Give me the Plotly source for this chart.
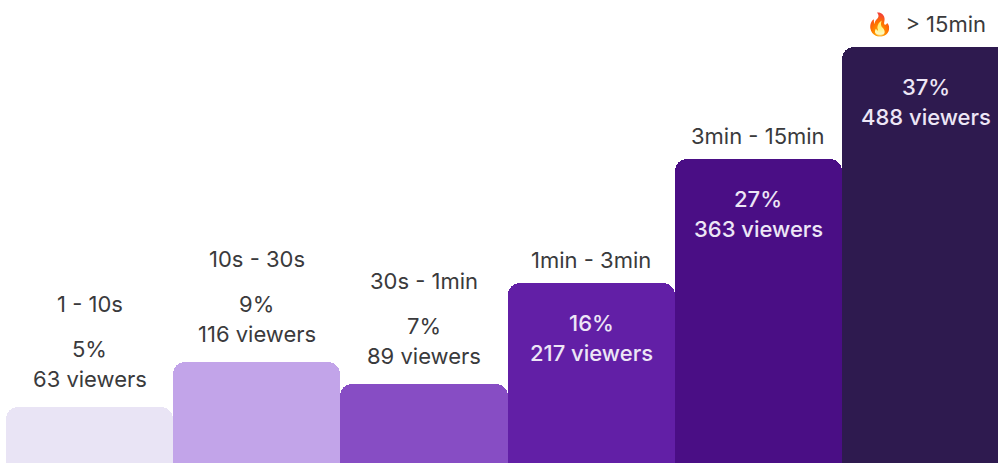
import plotly.graph_objects as go

# Watch-time buckets and the share of viewers in each
buckets = ["1 - 10s", "10s - 30s", "30s - 1min", "1min - 3min", "3min - 15min", "> 15min"]
bucket_titles = ["1 - 10s", "10s - 30s", "30s - 1min", "1min - 3min", "3min - 15min", "🔥  > 15min"]
share_pct = [5, 9, 7, 16, 27, 37]
viewers = [63, 116, 89, 217, 363, 488]
bar_colors = ["#E9E4F5", "#C2A4E9", "#874DC4", "#621FA6", "#4A0E85", "#2E1A4F"]

DARK = "#3A3A3C"
LIGHT = "#EDE6F6"
FONT = "Inter"
SIZE = 22

fig = go.Figure(
    go.Bar(
        x=buckets,
        y=share_pct,
        width=1,
        marker=dict(color=bar_colors, line_width=0),
        hoverinfo="skip",
    )
)


def label(x, y, text, color, shift, weight=400):
    fig.add_annotation(
        x=x, y=y, text=text, showarrow=False, yanchor="middle", xanchor="center",
        yshift=shift, font=dict(family=FONT, size=SIZE, color=color, weight=weight),
    )


for name, title, pct, count in zip(buckets, bucket_titles, share_pct, viewers):
    if pct >= 16:
        # Tall bars carry their figures inside, the bucket name above
        label(name, pct, title, DARK, 23)
        label(name, pct, f"{pct}%", LIGHT, -40, 500)
        label(name, pct, f"{count} viewers", LIGHT, -70, 500)
    else:
        # Short bars stack everything above the bar
        label(name, pct, title, DARK, 103)
        label(name, pct, f"{pct}%", DARK, 58)
        label(name, pct, f"{count} viewers", DARK, 28)

fig.update_layout(
    width=998,
    height=463,
    margin=dict(l=0, r=0, t=0, b=0),
    paper_bgcolor="white",
    plot_bgcolor="white",
    bargap=0,
    barcornerradius=12,
    showlegend=False,
    xaxis=dict(visible=False, type="category", categoryorder="array",
               categoryarray=buckets, range=[-0.536, 5.433], fixedrange=True),
    yaxis=dict(visible=False, range=[0, 41.16], fixedrange=True),
)

fig.write_html("out.html", config={"displayModeBar": False})
